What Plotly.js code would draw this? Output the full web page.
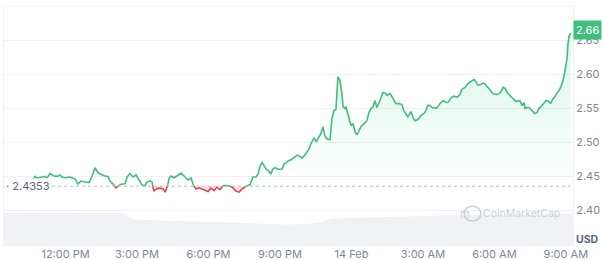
<!DOCTYPE html>
<html>
<head>
<meta charset="utf-8">
<script src="https://cdn.plot.ly/plotly-3.0.1.min.js"></script>
<style>html,body{margin:0;padding:0;background:#fff;}#chart{width:602px;height:260px;}</style>
</head>
<body>
<div id="chart"></div>
<script>
// ---- data ----
const times = [
"13 10:36","13 10:43","13 10:48","13 10:56","13 11:01","13 11:08","13 11:13","13 11:21","13 11:29","13 11:39",
"13 11:46","13 11:51","13 11:59","13 12:11","13 12:19","13 12:24","13 12:31","13 12:39","13 12:49","13 12:59",
"13 13:07","13 13:14","13 13:22","13 13:32","13 13:39","13 13:47","13 13:52","13 14:00","13 14:07","13 14:15",
"13 14:22","13 14:30","13 14:35","13 14:42","13 14:50","13 14:58","13 15:05","13 15:13","13 15:20","13 15:25",
"13 15:33","13 15:38","13 15:42","13 15:45","13 15:50","13 15:58","13 16:06","13 16:11","13 16:16","13 16:21",
"13 16:26","13 16:33","13 16:41","13 16:51","13 17:01","13 17:08","13 17:16","13 17:21","13 17:29","13 17:36",
"13 17:44","13 17:51","13 17:59","13 18:06","13 18:14","13 18:21","13 18:29","13 18:37","13 18:47","13 18:54",
"13 19:02","13 19:09","13 19:17","13 19:24","13 19:32","13 19:40","13 19:45","13 19:52","13 20:00","13 20:05",
"13 20:10","13 20:15","13 20:20","13 20:25","13 20:32","13 20:37","13 20:42","13 20:48","13 20:55","13 21:05",
"13 21:10","13 21:15","13 21:20","13 21:28","13 21:35","13 21:43","13 21:48","13 21:56","13 22:03","13 22:08",
"13 22:13","13 22:18","13 22:26","13 22:31","13 22:36","13 22:43","13 22:48","13 22:53","13 22:58","13 23:06",
"13 23:11","13 23:16","13 23:21","13 23:26","13 23:31","13 23:36","13 23:39","13 23:44","13 23:46","13 23:54",
"13 23:59","14 00:04","14 00:09","14 00:14","14 00:19","14 00:24","14 00:32","14 00:39","14 00:44","14 00:49",
"14 00:54","14 00:59","14 01:04","14 01:12","14 01:19","14 01:25","14 01:30","14 01:37","14 01:42","14 01:47",
"14 01:52","14 02:00","14 02:07","14 02:12","14 02:17","14 02:22","14 02:30","14 02:35","14 02:40","14 02:48",
"14 02:55","14 03:05","14 03:13","14 03:18","14 03:23","14 03:33","14 03:38","14 03:43","14 03:51","14 03:58",
"14 04:03","14 04:11","14 04:18","14 04:26","14 04:33","14 04:38","14 04:46","14 04:54","14 05:04","14 05:09",
"14 05:14","14 05:19","14 05:26","14 05:31","14 05:36","14 05:41","14 05:49","14 05:56","14 06:04","14 06:09",
"14 06:17","14 06:22","14 06:27","14 06:32","14 06:39","14 06:47","14 06:52","14 06:57","14 07:04","14 07:10",
"14 07:15","14 07:17","14 07:22","14 07:27","14 07:32","14 07:37","14 07:42","14 07:47","14 07:52","14 08:00",
"14 08:05","14 08:10","14 08:17","14 08:22","14 08:28","14 08:33","14 08:38","14 08:43","14 08:48","14 08:53",
"14 08:58","14 09:03","14 09:05","14 09:08","14 09:12"
];
const prices = [
2.4439,2.4498,2.4473,2.4478,2.4488,2.4498,2.4473,2.4537,2.4507,2.4498,
2.4518,2.4488,2.4478,2.4488,2.4473,2.4458,2.4385,2.4429,2.4414,2.4407,
2.4503,2.4626,2.4547,2.4518,2.4503,2.4495,2.4429,2.4385,2.4325,2.4370,
2.4385,2.4389,2.4488,2.4540,2.4488,2.4518,2.4444,2.4370,2.4360,2.4414,
2.4429,2.4414,2.4281,2.4296,2.4318,2.4325,2.4311,2.4266,2.4340,2.4473,
2.4503,2.4478,2.4503,2.4547,2.4488,2.4444,2.4473,2.4370,2.4311,2.4330,
2.4311,2.4296,2.4274,2.4325,2.4288,2.4340,2.4303,2.4362,2.4362,2.4358,
2.4325,2.4281,2.4266,2.4311,2.4340,2.4370,2.4380,2.4488,2.4488,2.4532,
2.4651,2.4700,2.4651,2.4606,2.4577,2.4532,2.4606,2.4626,2.4602,2.4606,
2.4680,2.4695,2.4725,2.4740,2.4774,2.4809,2.4799,2.4769,2.4813,2.4858,
2.4902,2.4976,2.5065,2.5006,2.5055,2.5124,2.5228,2.5094,2.5050,2.5035,
2.5346,2.5464,2.5479,2.5960,2.5908,2.5716,2.5523,2.5494,2.5523,2.5346,
2.5242,2.5272,2.5154,2.5109,2.5168,2.5228,2.5272,2.5316,2.5435,2.5494,
2.5513,2.5612,2.5509,2.5612,2.5730,2.5720,2.5686,2.5716,2.5671,2.5612,
2.5567,2.5567,2.5553,2.5464,2.5420,2.5375,2.5449,2.5361,2.5316,2.5336,
2.5390,2.5435,2.5543,2.5538,2.5509,2.5498,2.5523,2.5567,2.5612,2.5582,
2.5582,2.5656,2.5676,2.5661,2.5694,2.5775,2.5804,2.5864,2.5903,2.5923,
2.5878,2.5834,2.5849,2.5868,2.5859,2.5824,2.5775,2.5716,2.5701,2.5701,
2.5745,2.5804,2.5790,2.5730,2.5686,2.5631,2.5612,2.5597,2.5612,2.5538,
2.5583,2.5494,2.5509,2.5509,2.5479,2.5449,2.5420,2.5435,2.5494,2.5538,
2.5582,2.5612,2.5597,2.5572,2.5642,2.5671,2.5730,2.5760,2.5819,2.5908,
2.6056,2.6233,2.6426,2.6559,2.6603
];
const baselinePrice = 2.4353;
const lastPriceLabel = "2.66";

const volumeTimes = ["13 09:25","13 11:21","13 13:27","13 14:17","13 14:30","13 14:42","13 14:55","13 15:33","13 17:39","13 19:45",
                     "13 21:50","13 22:41","13 23:06","13 23:31","14 02:02","14 04:08","14 06:14","14 08:20","14 08:59","14 09:18"];
const volumes = [3.29,3.31,3.28,3.26,3.11,2.81,2.66,2.59,2.41,2.26,2.16,2.36,2.66,2.76,2.91,3.06,3.11,3.16,3.21,3.31]; // USD bn (24h)

const xTickTimes = ["13 12:00","13 15:00","13 18:00","13 21:00","14 00:00","14 03:00","14 06:00","14 09:00"];
const xTickLabels = ["12:00 PM","3:00 PM","6:00 PM","9:00 PM","14 Feb","3:00 AM","6:00 AM","9:00 AM"];
const yTickVals = [2.40,2.45,2.50,2.55,2.60,2.65,2.70];
const yTickLabels = ["2.40","2.45","2.50","2.55","2.60","2.65",""];
const xRange = ["13 09:25","14 09:18"];

// ---- helpers ----
const toMs = s => Date.parse("2025-02-" + s.slice(0,2) + "T" + s.slice(3) + ":00Z");
const GREEN = "#3fbf7c", RED = "#e5454c";

// build points with baseline crossings
const pts = [];
for (let i = 0; i < prices.length; i++) {
  const t = toMs(times[i]), v = prices[i];
  if (i > 0) {
    const t0 = toMs(times[i-1]), v0 = prices[i-1];
    if ((v0 - baselinePrice) * (v - baselinePrice) < 0) {
      const f = (baselinePrice - v0) / (v - v0);
      pts.push({t: t0 + f * (t - t0), v: baselinePrice});
    }
  }
  pts.push({t, v});
}
const px = pts.map(p => p.t);
const gLine = pts.map(p => p.v >= baselinePrice ? p.v : null);
const rLine = pts.map(p => p.v <= baselinePrice ? p.v : null);
const gFill = pts.map(p => Math.max(p.v, baselinePrice));
const rFill = pts.map(p => Math.min(p.v, baselinePrice));
const baseArr = pts.map(() => baselinePrice);

const traces = [
  {x: volumeTimes.map(toMs), y: volumes, yaxis: "y2", type: "scatter", mode: "lines",
   line: {width: 0, shape: "spline"}, fill: "tozeroy", fillcolor: "#eff1f5", hoverinfo: "skip"},
  {x: px, y: baseArr, mode: "lines", line: {width: 0}, hoverinfo: "skip"},
  {x: px, y: gFill, mode: "lines", line: {width: 0}, fill: "tonexty",
   fillgradient: {type: "vertical", start: baselinePrice, stop: 2.66,
     colorscale: [[0, "rgba(22,199,132,0.0)"], [1, "rgba(22,199,132,0.16)"]]}, hoverinfo: "skip"},
  {x: px, y: baseArr, mode: "lines", line: {width: 0}, hoverinfo: "skip"},
  {x: px, y: rFill, mode: "lines", line: {width: 0}, fill: "tonexty", fillcolor: "rgba(234,57,67,0.15)", hoverinfo: "skip"},
  {x: px, y: gLine, mode: "lines", line: {color: GREEN, width: 1.6}, connectgaps: false},
  {x: px, y: rLine, mode: "lines", line: {color: RED, width: 1.6}, connectgaps: false}
];

const tickFont = {family: "Inter, 'Open Sans', sans-serif", size: 11, color: "#7d8696"};
const layout = {
  width: 602, height: 260,
  margin: {l: 4, r: 29, t: 5, b: 14},
  paper_bgcolor: "#fff", plot_bgcolor: "#fff",
  showlegend: false,
  xaxis: {type: "date", range: xRange.map(toMs), showgrid: false, zeroline: false,
          tickvals: xTickTimes.map(toMs), ticktext: xTickLabels, tickfont: tickFont, ticks: "",
          fixedrange: true},
  yaxis: {side: "right", range: [2.3475, 2.7015], tickvals: yTickVals, ticktext: yTickLabels,
          tickfont: tickFont, ticks: "", showgrid: true, gridcolor: "#eff1f4", gridwidth: 1, zeroline: false,
          showline: true, mirror: "all", linecolor: "#f0f2f5", linewidth: 1},
  yaxis2: {overlaying: "y", range: [0, 24], visible: false},
  shapes: [
    {type: "line", xref: "paper", x0: 0, x1: 1, yref: "y", y0: baselinePrice, y1: baselinePrice,
     line: {color: "#b7bdc6", width: 1, dash: "dot"}},
    {type: "circle", xref: "paper", yref: "paper", x0: 0.8084, x1: 0.8383, y0: 0.104, y1: 0.165,
     line: {color: "#ccd1da", width: 1.6}}
  ],
  annotations: [
    {text: lastPriceLabel, xref: "paper", x: 1, xanchor: "left", yref: "y", y: prices[prices.length-1],
     yshift: 3, showarrow: false, bgcolor: GREEN, borderpad: 2,
     font: {family: "Inter, sans-serif", size: 11, color: "#fff"}},
    {text: "<b>USD</b>", xref: "paper", x: 1, xanchor: "right", xshift: 28, yref: "paper", y: 0.026,
     yanchor: "middle", showarrow: false, font: {family: "Inter, sans-serif", size: 10.5, color: "#58667e"}},
    {text: "· " + baselinePrice.toFixed(4), xref: "paper", x: 0, xanchor: "left", xshift: 1,
     yref: "y", y: baselinePrice, showarrow: false, bgcolor: "#fff", borderpad: 0,
     font: {family: "Inter, sans-serif", size: 11, color: "#58667e"}},
    {text: "m", xref: "paper", x: 0.8233, yref: "paper", y: 0.1345, yanchor: "middle", showarrow: false,
     font: {family: "Inter, sans-serif", size: 11, color: "#ccd1da"}},
    {text: "CoinMarketCap", xref: "paper", x: 0.9807, xanchor: "right", yref: "paper", y: 0.134,
     yanchor: "middle", showarrow: false, font: {family: "Inter, sans-serif", size: 10.5, color: "#ccd1da"}}
  ]
};

Plotly.newPlot("chart", traces, layout, {displayModeBar: false, staticPlot: true});
</script>
</body>
</html>
